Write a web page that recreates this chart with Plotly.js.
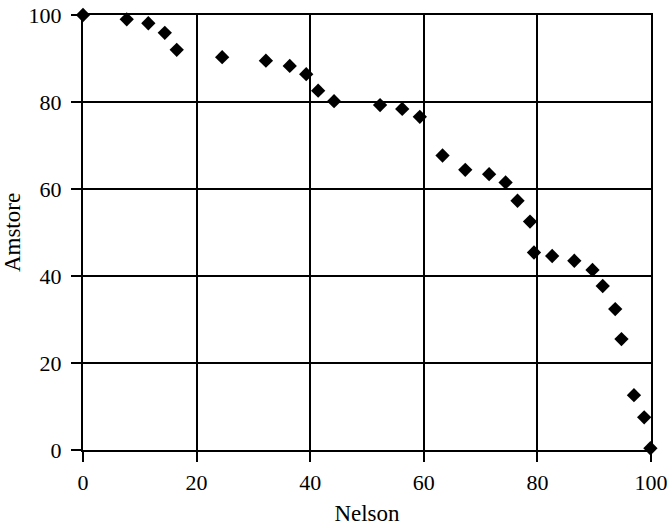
<!DOCTYPE html>
<html>
<head>
<meta charset="utf-8">
<script src="https://cdn.plot.ly/plotly-3.0.1.min.js"></script>
<style>html,body{margin:0;padding:0;background:#fff;}#chart{width:672px;height:528px;}</style>
</head>
<body>
<div id="chart"></div>
<script>
const nelson = [0, 7.7, 11.5, 14.4, 16.5, 24.5, 32.2, 36.4, 39.3, 41.4, 44.2, 52.3, 56.2, 59.3, 63.3, 67.3, 71.5, 74.4, 76.5, 78.7, 79.4, 82.6, 86.5, 89.7, 91.5, 93.7, 94.8, 97.0, 98.8, 99.9];
const amstore = [100, 99.0, 98.1, 95.9, 92.0, 90.3, 89.5, 88.3, 86.4, 82.6, 80.2, 79.3, 78.4, 76.6, 67.7, 64.4, 63.4, 61.5, 57.3, 52.5, 45.4, 44.6, 43.5, 41.4, 37.7, 32.4, 25.5, 12.6, 7.5, 0.4];
const tickVals = [0, 20, 40, 60, 80, 100];
const xTitle = "Nelson";
const yTitle = "Amstore";

const font = "Liberation Serif, Times New Roman, serif";
const axisCommon = {
  range: [0, 100],
  tickvals: tickVals,
  ticktext: tickVals.map(String),
  showgrid: true,
  gridcolor: "#000",
  gridwidth: 2,
  showline: true,
  linecolor: "#000",
  linewidth: 2,
  mirror: true,
  ticks: "outside",
  ticklen: 10,
  tickwidth: 2,
  tickcolor: "#000",
  zeroline: false,
  fixedrange: true,
  tickfont: {family: font, size: 22, color: "#000"}
};

Plotly.newPlot("chart", [{
  x: nelson,
  y: amstore,
  type: "scatter",
  mode: "markers",
  cliponaxis: false,
  marker: {symbol: "diamond", size: 11, color: "#000"}
}], {
  width: 672,
  height: 528,
  margin: {l: 83, r: 21, t: 15, b: 78},
  paper_bgcolor: "#fff",
  plot_bgcolor: "#fff",
  showlegend: false,
  font: {family: font, color: "#000"},
  xaxis: Object.assign({}, axisCommon, {
    ticklabelstandoff: 2,
    title: {text: xTitle, font: {family: font, size: 23, color: "#000"}, standoff: 10}
  }),
  yaxis: Object.assign({}, axisCommon, {
    ticklabelstandoff: 5,
    title: {text: yTitle, font: {family: font, size: 23, color: "#000"}, standoff: 6}
  })
}, {displayModeBar: false, staticPlot: true});
</script>
</body>
</html>
